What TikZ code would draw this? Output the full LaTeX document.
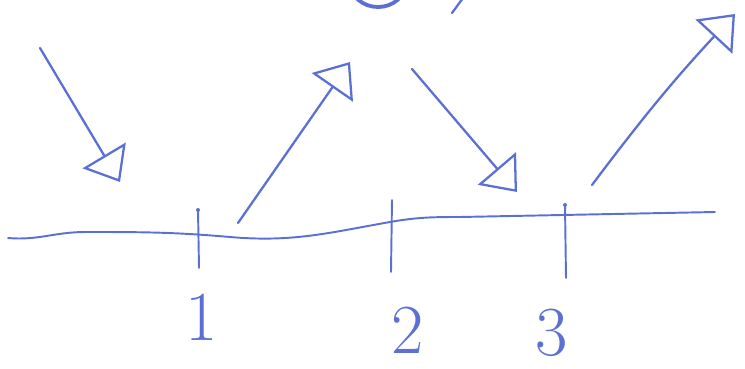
\documentclass[tikz,border=0pt]{standalone}
\usetikzlibrary{arrows.meta}
\definecolor{pen}{RGB}{92,112,212}
\tikzset{
  ink/.style={draw=pen, line width=1.3pt, line cap=round, line join=round},
  ray/.style={ink, -{Triangle[open, length=0.62cm, width=1cm, line width=1.3pt]}},
  tick/.style={ink, line width=1.1pt},
  num/.style={text=pen, font=\fontsize{40}{40}\selectfont, inner sep=0pt}
}
\begin{document}
\begin{tikzpicture}[x=0.02cm, y=-0.02cm]
  \useasboundingbox (0,0) rectangle (745,369);

  % Define point positions
  \coordinate (L) at (8,238); \coordinate (R) at (715,212);
  \coordinate (T1a) at (198,210); \coordinate (T1b) at (199,268);
  \coordinate (T2a) at (392,200); \coordinate (T2b) at (391,272);
  \coordinate (T3a) at (565,205); \coordinate (T3b) at (566,278);

  % Axis
  \draw[ink, line width=1.1pt] (L) to[out=-5, in=180] (85,232)
    to[out=0, in=175] (230,237) to[out=-5, in=190] (390,222)
    to[out=10, in=180] (460,217) -- (R);
  \fill[pen] (T1a) circle (2); \fill[pen] (T3a) circle (2);
  \draw[tick] (T1a) -- (T1b);
  \draw[tick] (T2a) -- (T2b);
  \draw[tick] (T3a) -- (T3b);

  % Labels
  \node[num] (n1) at (202,317) {1};
  \node[num] (n2) at (408,330) {2};
  \node[num] (n3) at (552,333) {3};

  % Rays
  \coordinate (A1) at (40,48);   \coordinate (B1) at (120,182);
  \coordinate (A2) at (238,223); \coordinate (B2) at (350,62);
  \coordinate (A3) at (412,69);  \coordinate (B3) at (517,192);
  \coordinate (A4) at (592,185); \coordinate (B4) at (735,14);
  \draw[ray] (A1) -- (B1);
  \draw[ray] (A2) -- (B2);
  \draw[ray] (A3) -- (B3);
  \draw[ray] (A4) to[bend left=3] (B4);

  % Cut off at the top
  \draw[ink, line width=2.2pt] (378,-16) ellipse (27 and 23);
  \draw[ink] (452,13) -- (463,-2);
\end{tikzpicture}
\end{document}
